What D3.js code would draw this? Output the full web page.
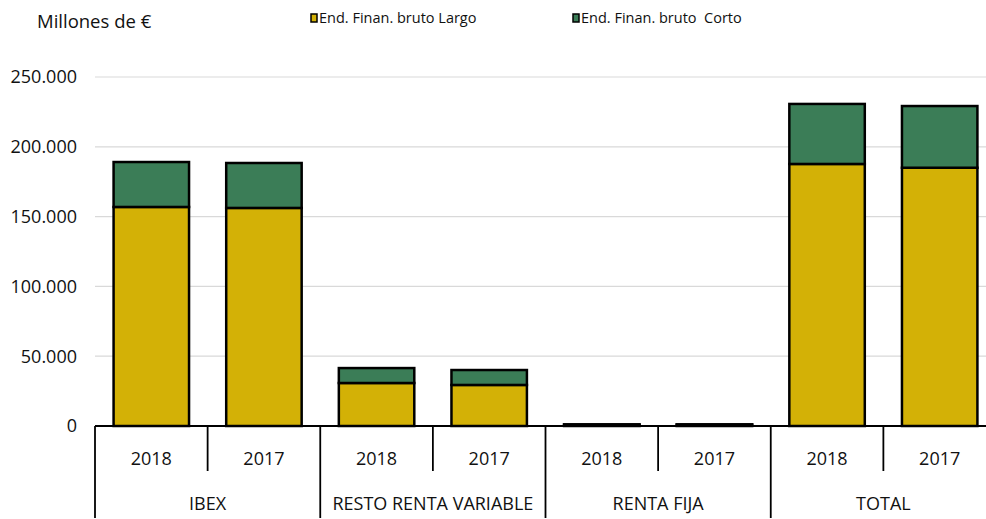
<!DOCTYPE html>
<html>
<head>
<meta charset="utf-8">
<script src="https://cdn.jsdelivr.net/npm/d3@7"></script>
<style>
  body { margin: 0; background: #fff; }
  text { font-family: "Open Sans", "Noto Sans", sans-serif; fill: #111; white-space: pre; }
</style>
</head>
<body>
<div class="canvas"></div>
<script>
const groups = ['IBEX', 'RESTO RENTA VARIABLE', 'RENTA FIJA', 'TOTAL']
const years = ['2018', '2017']
// one value per bar, in order group/year
const largo = [156900, 156200, 30800, 29400, 900, 900, 187700, 185000]
const corto = [32200, 32200, 10700, 10700, 300, 300, 43000, 44200]
const yTicks = [0, 50000, 100000, 150000, 200000, 250000]
const seriesNames = ['End. Finan. bruto Largo', 'End. Finan. bruto  Corto']
const colours = ['#d3b106', '#3b7d57']

const width = 986
const height = 519
const margin = {left: 95, top: 77, bottom: 426}

const svg = d3.select('.canvas').append('svg')
  .attr('width', width)
  .attr('height', height)

const bars = []
groups.forEach(g => years.forEach(y => bars.push({group: g, year: y})))
bars.forEach((b, i) => {
  b.key = b.group + '-' + b.year
  b.largo = largo[i]
  b.corto = corto[i]
})

const x = d3.scaleBand()
  .domain(bars.map(b => b.key))
  .range([margin.left, 996])
  .paddingInner(0.33)
  .paddingOuter(0.165)

const y = d3.scaleLinear()
  .domain([0, 250000])
  .range([margin.bottom, margin.top])

const fmt = d3.formatLocale({decimal: ',', thousands: '.', grouping: [3], currency: ['', '€']}).format(',')

// grid
svg.append('g')
  .selectAll('line')
  .data(yTicks.filter(t => t > 0))
  .join('line')
  .attr('x1', margin.left).attr('x2', width)
  .attr('y1', d => y(d)).attr('y2', d => y(d))
  .attr('stroke', '#d9d9d9')
  .attr('stroke-width', 1.2)

svg.append('g')
  .selectAll('text')
  .data(yTicks)
  .join('text')
  .attr('x', 77)
  .attr('y', d => y(d))
  .attr('dy', '0.35em')
  .attr('text-anchor', 'end')
  .attr('font-size', 18)
  .text(d => fmt(d))

// stacks
const stack = d3.stack().keys(['largo', 'corto'])(bars)
svg.append('g')
  .selectAll('g')
  .data(stack)
  .join('g')
  .attr('fill', (d, i) => colours[i])
  .selectAll('rect')
  .data(d => d)
  .join('rect')
  .attr('x', d => x(d.data.key))
  .attr('width', x.bandwidth())
  .attr('y', d => y(d[1]))
  .attr('height', d => y(d[0]) - y(d[1]))
  .attr('stroke', '#000')
  .attr('stroke-width', 2.5)

// category axis
const step = x.step()
const axis = svg.append('g')
axis.append('line')
  .attr('x1', margin.left).attr('x2', width)
  .attr('y1', margin.bottom).attr('y2', margin.bottom)
  .attr('stroke', '#000').attr('stroke-width', 2)

bars.forEach((b, i) => {
  const left = margin.left + i * step
  const full = i % 2 === 0
  axis.append('line')
    .attr('x1', left).attr('x2', left)
    .attr('y1', margin.bottom).attr('y2', full ? 518 : 471)
    .attr('stroke', '#000').attr('stroke-width', 1.8)
  axis.append('text')
    .attr('x', x(b.key) + x.bandwidth() / 2)
    .attr('y', 465)
    .attr('text-anchor', 'middle')
    .attr('font-size', 18)
    .text(b.year)
})

groups.forEach((g, i) => {
  axis.append('text')
    .attr('x', margin.left + (i * 2 + 1) * step)
    .attr('y', 510)
    .attr('text-anchor', 'middle')
    .attr('font-size', 18)
    .text(g)
})

svg.append('text')
  .attr('x', 37).attr('y', 28)
  .attr('font-size', 18.5)
  .text('Millones de €')

// legend
const legendX = [311, 573]
seriesNames.forEach((name, i) => {
  const lg = svg.append('g').attr('transform', `translate(${legendX[i]}, 14)`)
  lg.append('rect')
    .attr('width', 6).attr('height', 8)
    .attr('fill', colours[i])
    .attr('stroke', '#000').attr('stroke-width', 1.5)
  lg.append('text')
    .attr('x', 8).attr('y', 9)
    .attr('font-size', 14.5)
    .text(name)
})
</script>
</body>
</html>
